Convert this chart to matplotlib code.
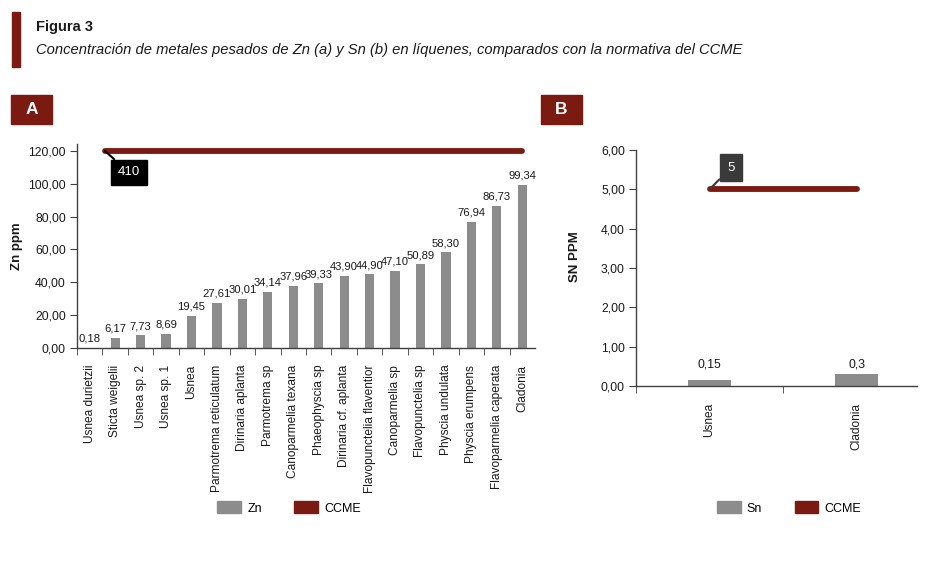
import matplotlib
matplotlib.use("Agg")
import matplotlib.pyplot as plt
from matplotlib.patches import Patch, Rectangle
from matplotlib.ticker import FuncFormatter, FixedLocator

plt.rcParams['font.family'] = ['Liberation Sans', 'DejaVu Sans']

# ---- data ----
zn_species = ["Usnea durietzii", "Sticta weigelii", "Usnea sp. 2", "Usnea sp. 1", "Usnea",
              "Parmotrema reticulatum", "Dirinaria aplanta", "Parmotrema sp",
              "Canoparmelia texana", "Phaeophyscia sp", "Dirinaria cf. aplanta",
              "Flavopunctelia flaventior", "Canoparmelia sp", "Flavopunctelia sp",
              "Physcia undulata", "Physcia erumpens", "Flavoparmelia caperata", "Cladonia"]
zn_values = [0.18, 6.17, 7.73, 8.69, 19.45, 27.61, 30.01, 34.14, 37.96, 39.33,
             43.90, 44.90, 47.10, 50.89, 58.30, 76.94, 86.73, 99.34]
zn_ccme = 410
zn_yticks = [0, 20, 40, 60, 80, 100, 120]

sn_species = ["Usnea", "Cladonia"]
sn_values = [0.15, 0.3]
sn_labels = ["0,15", "0,3"]
sn_ccme = 5
sn_yticks = [0, 1, 2, 3, 4, 5, 6]

BAR = "#8c8c8c"
RED = "#7a1a10"
AX = "#404040"
TXT = "#1a1a1a"

W, H = 936, 565
fig = plt.figure(figsize=(W / 100, H / 100), dpi=100)

def fx(px):
    return px / W

def fy(py):
    return 1 - py / H

comma = FuncFormatter(lambda v, p: f"{v:.2f}".replace(".", ","))

def style_axes(ax):
    for s in ("top", "right"):
        ax.spines[s].set_visible(False)
    for s in ("left", "bottom"):
        ax.spines[s].set_color(AX)
        ax.spines[s].set_linewidth(1.0)
    ax.tick_params(axis="y", direction="out", length=5, color=AX, labelsize=8.8, labelcolor=TXT, pad=3)
    ax.yaxis.set_major_formatter(comma)

# ---- Title ----
fig.patches.append(Rectangle((fx(12), fy(67)), fx(8), 55 / H, transform=fig.transFigure,
                             color=RED, zorder=0))
fig.text(fx(36), fy(27), "Figura 3", fontsize=10.5, fontweight="bold", color=TXT, va="center")
fig.text(fx(36), fy(50), "Concentración de metales pesados de Zn (a) y Sn (b) en líquenes, comparados con la normativa del CCME",
         fontsize=10.6, style="italic", color=TXT, va="center")

# Panel labels
for x0, lab in ((11, "A"), (541, "B")):
    fig.patches.append(Rectangle((fx(x0), fy(124)), fx(41), 29 / H, transform=fig.transFigure,
                                 color=RED, zorder=0))
    fig.text(fx(x0 + 20.5), fy(109.5), lab, color="white", fontsize=12.5, fontweight="bold",
             ha="center", va="center")

# ---- Chart A ----
axA = fig.add_axes([fx(77), fy(348), fx(535 - 77), (348 - 144.4) / H])
style_axes(axA)
xa = list(range(len(zn_species)))
axA.bar(xa, zn_values, width=0.36, color=BAR, zorder=2)
axA.set_ylim(0, 124)
axA.set_xlim(-0.47, len(zn_species) - 0.5)
axA.yaxis.set_major_locator(FixedLocator(zn_yticks))
axA.set_xticks(xa)
axA.set_xticklabels(zn_species, rotation=90, fontsize=8.6, color=TXT)
axA.tick_params(axis="x", which="major", length=0, pad=12)
axA.set_xticks([i - 0.5 for i in xa], minor=True)
axA.tick_params(axis="x", which="minor", direction="out", length=5, color=AX)
for x, v in zip(xa, zn_values):
    axA.annotate(f"{v:.2f}".replace(".", ","), (x, v), xytext=(0, 3), textcoords="offset points",
                 ha="center", va="bottom", fontsize=8.1, color=TXT)
# CCME line (value exceeds the axis, drawn at the top of the scale)
top = min(zn_ccme, zn_yticks[-1])
axA.plot([0.6, xa[-1]], [top, top], color=RED, lw=4.2, solid_capstyle="round", zorder=3, clip_on=False)
axA.annotate(str(zn_ccme), xy=(0.6, top), xytext=(1.1, top - 13), textcoords="data",
             ha="left", va="center", color="white", fontsize=9.5,
             bbox=dict(boxstyle="square,pad=0.5", fc="black", ec="black"),
             arrowprops=dict(arrowstyle="-", color="black", lw=1.5, shrinkA=0, shrinkB=0))
axA.set_ylabel("Zn ppm", fontsize=9.5, fontweight="bold", color=TXT, va="center")
axA.yaxis.set_label_coords((17 - 77) / (535 - 77), 0.5)

# ---- Chart B ----
axB = fig.add_axes([fx(636), fy(386), fx(917 - 636), (386 - 150) / H])
style_axes(axB)
xb = list(range(len(sn_species)))
axB.bar(xb, sn_values, width=0.29, color=BAR, zorder=2)
axB.set_ylim(0, 6)
axB.set_xlim(-0.49, 1.41)
axB.yaxis.set_major_locator(FixedLocator(sn_yticks))
axB.set_xticks(xb)
axB.set_xticklabels(sn_species, rotation=90, fontsize=8.6, color=TXT)
axB.tick_params(axis="x", which="major", length=0, pad=12)
axB.set_xticks([i - 0.5 for i in xb], minor=True)
axB.tick_params(axis="x", which="minor", direction="out", length=5, color=AX)
for x, lab in zip(xb, sn_labels):
    axB.text(x, max(sn_values) + 0.1, lab, ha="center", va="bottom", fontsize=8.8, color=TXT)
axB.plot([xb[0], xb[-1]], [sn_ccme, sn_ccme], color=RED, lw=4.2, solid_capstyle="round", zorder=3)
axB.annotate(str(sn_ccme), xy=(xb[0], sn_ccme), xytext=(0.145, sn_ccme + 0.55), textcoords="data",
             ha="center", va="center", color="white", fontsize=9.5,
             bbox=dict(boxstyle="square,pad=0.55", fc="#3a3a3a", ec="#3a3a3a"),
             arrowprops=dict(arrowstyle="-", color="#3a3a3a", lw=1.5, shrinkA=0, shrinkB=0))
axB.set_ylabel("SN PPM", fontsize=9.5, fontweight="bold", color=TXT, va="center")
axB.yaxis.set_label_coords((575 - 636) / (917 - 636), 0.55)

# ---- Legends ----
for cx, name in ((289, "Zn"), (789, "Sn")):
    fig.legend(handles=[Patch(color=BAR, label=name), Patch(color=RED, label="CCME")],
               loc="center", bbox_to_anchor=(fx(cx), fy(508)), ncol=2, frameon=False,
               fontsize=9, handlelength=1.9, handleheight=1.05, columnspacing=2.6, handletextpad=0.5)

fig.savefig("out.png", dpi=100)
